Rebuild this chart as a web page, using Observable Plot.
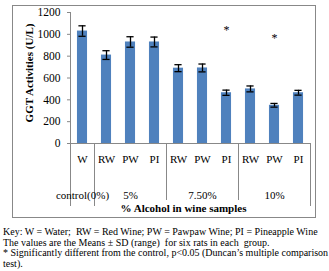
<!DOCTYPE html>
<html>
<head>
<meta charset="utf-8">
<script src="https://cdn.jsdelivr.net/npm/d3@7"></script>
<script src="https://cdn.jsdelivr.net/npm/@observablehq/plot@0.6"></script>
<style>
  html, body { margin: 0; padding: 0; background: #fff; }
  #chart svg { display: block; }
  #caption { font-family: "Liberation Serif", "Times New Roman", serif; font-size: 10px; line-height: 10.7px; color: #000; padding-left: 3px; margin-top: 7px; white-space: nowrap; }
</style>
</head>
<body>
<div id="chart"></div>
<div id="caption">
Key: W = Water;&nbsp; RW = Red Wine; PW = Pawpaw Wine; PI = Pineapple Wine<br>
The values are the Means ± SD (range)&nbsp; for six rats in each&nbsp; group.<br>
* Significantly different from the control, p&lt;0.05 (Duncan’s multiple comparison<br>
test).
</div>
<script>
const samples = ["W", "RW", "PW", "PI", "RW", "PW", "PI", "RW", "PW", "PI"];
const groups = ["control(0%)", "5%", "5%", "5%", "7.50%", "7.50%", "7.50%", "10%", "10%", "10%"];
const means = [1030, 810, 930, 930, 690, 692, 465, 500, 350, 465];
const sds = [48, 40, 48, 45, 32, 36, 24, 27, 17, 22];
const groupLabels = ["control(0%)", "5%", "7.50%", "10%"];
const groupCenters = [0, 2, 5, 8];
const starIndex = [6, 8];
const starValues = [1037, 967];
const yTicks = [0, 200, 400, 600, 800, 1000, 1200];
const longSeparators = [-0.5, 0.5, 9.5];
const shortSeparators = [3.5, 6.5];

const data = samples.map((s, i) => ({i, sample: s, group: groups[i], mean: means[i], sd: sds[i]}));
const stars = starIndex.map((i, k) => ({i, v: starValues[k]}));
const gl = groupLabels.map((g, k) => ({g, i: groupCenters[k]}));

const gray = "#888";
const chart = Plot.plot({
  width: 329,
  height: 220,
  marginLeft: 70,
  marginRight: 19,
  marginTop: 12,
  marginBottom: 77,
  style: {fontFamily: "'Liberation Serif', 'Times New Roman', serif", fontSize: "11px", color: "#000", background: "#fff", overflow: "visible"},
  x: {type: "linear", domain: [-0.5, 9.5], axis: null},
  y: {domain: [0, 1200], axis: null},
  marks: [
    Plot.frame({stroke: gray, insetLeft: -58, insetTop: -7, insetRight: -5, insetBottom: -74}),
    Plot.rectY(data, {x1: d => d.i - 0.21, x2: d => d.i + 0.21, y1: 0, y2: "mean", fill: "#4f81bd"}),
    Plot.ruleX(data, {x: "i", y1: d => d.mean - d.sd, y2: d => d.mean + d.sd, stroke: "#000", strokeWidth: 1.3}),
    Plot.ruleY(data, {y: d => d.mean + d.sd, x1: d => d.i - 0.15, x2: d => d.i + 0.15, stroke: "#000", strokeWidth: 1.3}),
    Plot.ruleY(data, {y: d => d.mean - d.sd, x1: d => d.i - 0.15, x2: d => d.i + 0.15, stroke: "#000", strokeWidth: 1.3}),
    Plot.ruleY([0], {stroke: gray}),
    Plot.ruleX([-0.5], {stroke: gray}),
    Plot.ruleX(longSeparators, {x: d => d, y1: 0, y2: -577, stroke: gray}),
    Plot.ruleX(shortSeparators, {x: d => d, y1: 0, y2: -522, stroke: gray}),
    Plot.axisY({ticks: yTicks, tickFormat: d => String(d), tickSize: 3, tickPadding: 7, stroke: gray, fontSize: 11.5, label: null}),
    Plot.axisX({ticks: data.map(d => d.i), tickFormat: i => samples[i], tickSize: 0, tickPadding: 12, fontSize: 11, label: null}),
    Plot.text(gl, {x: "i", y: 0, text: "g", dy: 52, fontSize: 11}),
    Plot.text(["% Alcohol in wine samples"], {frameAnchor: "bottom", dx: -7, dy: 68, fontWeight: "bold", fontSize: 11}),
    Plot.text(["GGT Activities (U/L)"], {frameAnchor: "left", textAnchor: "middle", rotate: -90, dx: -41, dy: -5, fontWeight: "bold", fontSize: 11}),
    Plot.text(stars, {x: "i", y: "v", text: () => "*", fontSize: 12})
  ]
});
document.getElementById("chart").appendChild(chart);
</script>
</body>
</html>
